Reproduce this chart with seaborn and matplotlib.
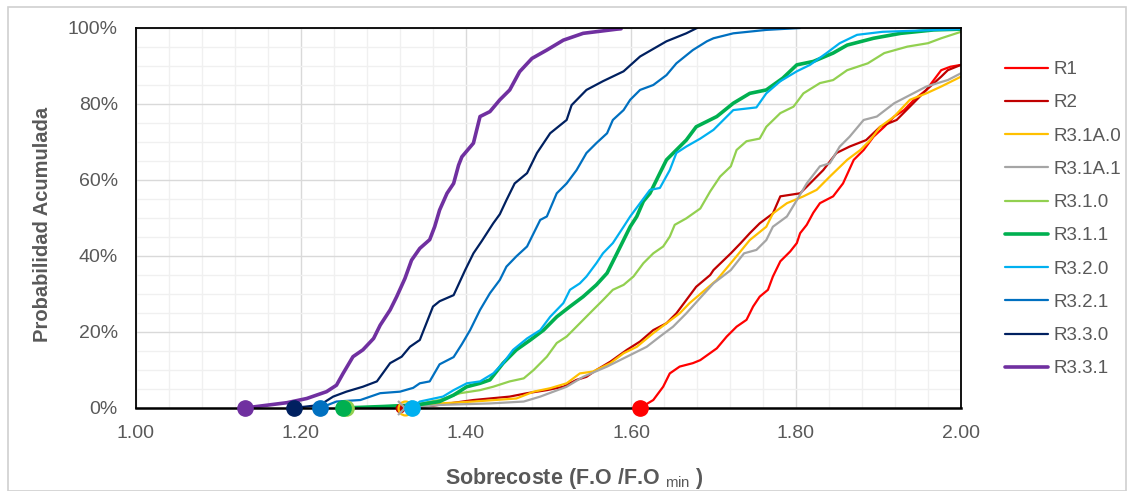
import matplotlib
matplotlib.use("Agg")
import matplotlib.pyplot as plt
import seaborn as sns
import pandas as pd
from matplotlib.ticker import MultipleLocator, FixedLocator
from matplotlib.patches import Rectangle

# ---------------- data ----------------
series_names = ["R1", "R2", "R3.1A.0", "R3.1A.1", "R3.1.0", "R3.1.1",
                "R3.2.0", "R3.2.1", "R3.3.0", "R3.3.1"]

r1_x = [1.611, 1.627, 1.639, 1.647, 1.659, 1.675, 1.684, 1.704, 1.716, 1.728, 1.740, 1.748, 1.756, 1.766,
        1.772, 1.781, 1.793, 1.801, 1.805, 1.813, 1.821, 1.829, 1.845, 1.857, 1.870, 1.882, 1.894, 1.907,
        1.919, 1.931, 1.943, 1.958, 1.976, 1.987, 2.000]
r1_p = [0.000, 0.021, 0.056, 0.091, 0.109, 0.118, 0.126, 0.157, 0.188, 0.214, 0.232, 0.267, 0.293, 0.311,
        0.346, 0.386, 0.412, 0.434, 0.460, 0.482, 0.514, 0.539, 0.557, 0.591, 0.653, 0.679, 0.714, 0.740,
        0.767, 0.784, 0.811, 0.837, 0.889, 0.898, 0.903]

r2_x = [1.320, 1.360, 1.409, 1.453, 1.474, 1.498, 1.518, 1.534, 1.546, 1.558, 1.575, 1.595, 1.611, 1.627,
        1.643, 1.655, 1.667, 1.679, 1.696, 1.700, 1.721, 1.733, 1.744, 1.756, 1.772, 1.781, 1.805, 1.817,
        1.833, 1.849, 1.865, 1.885, 1.902, 1.922, 1.938, 1.958, 1.976, 1.984, 2.000]
r2_p = [0.000, 0.006, 0.021, 0.030, 0.039, 0.047, 0.056, 0.074, 0.082, 0.100, 0.122, 0.153, 0.175, 0.205,
        0.223, 0.249, 0.284, 0.319, 0.350, 0.363, 0.407, 0.434, 0.460, 0.486, 0.512, 0.557, 0.565, 0.591,
        0.626, 0.671, 0.688, 0.705, 0.740, 0.758, 0.793, 0.837, 0.872, 0.889, 0.903]

r31a0_x = [1.326, 1.368, 1.409, 1.461, 1.482, 1.502, 1.522, 1.538, 1.554, 1.575, 1.591, 1.607, 1.627, 1.643,
           1.659, 1.671, 1.684, 1.704, 1.724, 1.744, 1.764, 1.772, 1.789, 1.809, 1.825, 1.841, 1.862, 1.878,
           1.890, 1.902, 1.919, 1.938, 1.958, 1.976, 2.000]
r31a0_p = [0.000, 0.012, 0.017, 0.025, 0.043, 0.052, 0.065, 0.091, 0.096, 0.118, 0.144, 0.161, 0.197, 0.223,
           0.249, 0.276, 0.300, 0.337, 0.389, 0.442, 0.477, 0.512, 0.539, 0.557, 0.574, 0.609, 0.653, 0.679,
           0.705, 0.740, 0.767, 0.811, 0.828, 0.846, 0.872]

r31a1_x = [1.326, 1.368, 1.429, 1.470, 1.490, 1.522, 1.542, 1.571, 1.595, 1.619, 1.635, 1.651, 1.667, 1.684,
           1.700, 1.721, 1.737, 1.752, 1.764, 1.772, 1.789, 1.801, 1.813, 1.829, 1.841, 1.853, 1.865, 1.882,
           1.898, 1.919, 1.935, 1.958, 1.984, 2.000]
r31a1_p = [0.000, 0.008, 0.012, 0.017, 0.030, 0.056, 0.082, 0.109, 0.135, 0.161, 0.188, 0.214, 0.249, 0.290,
           0.328, 0.363, 0.407, 0.416, 0.442, 0.477, 0.504, 0.547, 0.591, 0.636, 0.644, 0.688, 0.714, 0.758,
           0.767, 0.802, 0.820, 0.846, 0.863, 0.881]

r310_x = [1.255, 1.300, 1.340, 1.368, 1.393, 1.417, 1.433, 1.453, 1.470, 1.482, 1.498, 1.510, 1.522, 1.538,
          1.554, 1.566, 1.578, 1.591, 1.603, 1.615, 1.627, 1.639, 1.647, 1.653, 1.667, 1.684, 1.696, 1.708,
          1.721, 1.728, 1.740, 1.756, 1.764, 1.781, 1.797, 1.809, 1.829, 1.845, 1.862, 1.887, 1.907, 1.935,
          1.960, 1.976, 2.000]
r310_p = [0.000, 0.004, 0.010, 0.021, 0.039, 0.047, 0.056, 0.070, 0.078, 0.100, 0.135, 0.171, 0.188, 0.223,
          0.258, 0.284, 0.311, 0.324, 0.346, 0.381, 0.407, 0.425, 0.451, 0.482, 0.499, 0.525, 0.570, 0.609,
          0.636, 0.679, 0.702, 0.709, 0.740, 0.776, 0.793, 0.828, 0.855, 0.863, 0.889, 0.907, 0.934, 0.951,
          0.960, 0.973, 0.990]

r311_x = [1.251, 1.300, 1.340, 1.368, 1.385, 1.401, 1.417, 1.429, 1.445, 1.461, 1.478, 1.494, 1.510, 1.526,
          1.542, 1.558, 1.571, 1.583, 1.591, 1.599, 1.607, 1.615, 1.623, 1.635, 1.643, 1.655, 1.667, 1.679,
          1.704, 1.724, 1.744, 1.764, 1.784, 1.801, 1.821, 1.845, 1.862, 1.894, 1.927, 1.967, 2.000]
r311_p = [0.000, 0.004, 0.008, 0.017, 0.034, 0.056, 0.065, 0.074, 0.118, 0.153, 0.179, 0.205, 0.240, 0.267,
          0.293, 0.324, 0.355, 0.407, 0.442, 0.477, 0.504, 0.544, 0.565, 0.618, 0.653, 0.679, 0.705, 0.740,
          0.767, 0.802, 0.828, 0.837, 0.868, 0.903, 0.912, 0.934, 0.955, 0.973, 0.986, 0.995, 0.997]

r320_x = [1.335, 1.344, 1.372, 1.385, 1.401, 1.417, 1.433, 1.445, 1.457, 1.474, 1.490, 1.502, 1.518, 1.526,
          1.538, 1.546, 1.558, 1.566, 1.578, 1.591, 1.599, 1.611, 1.623, 1.635, 1.647, 1.655, 1.667, 1.684,
          1.700, 1.712, 1.724, 1.752, 1.764, 1.781, 1.801, 1.817, 1.837, 1.853, 1.874, 1.905, 1.946, 2.000]
r320_p = [0.000, 0.017, 0.030, 0.047, 0.065, 0.070, 0.091, 0.118, 0.153, 0.183, 0.205, 0.240, 0.276, 0.311,
          0.328, 0.346, 0.381, 0.407, 0.434, 0.477, 0.504, 0.539, 0.574, 0.579, 0.626, 0.671, 0.688, 0.709,
          0.732, 0.758, 0.784, 0.791, 0.828, 0.860, 0.886, 0.903, 0.934, 0.960, 0.982, 0.990, 0.993, 0.997]

r321_x = [1.223, 1.243, 1.272, 1.296, 1.320, 1.336, 1.344, 1.356, 1.368, 1.385, 1.395, 1.405, 1.417, 1.429,
          1.441, 1.449, 1.461, 1.474, 1.482, 1.490, 1.498, 1.510, 1.522, 1.534, 1.546, 1.558, 1.571, 1.578,
          1.591, 1.599, 1.611, 1.627, 1.643, 1.655, 1.675, 1.692, 1.700, 1.724, 1.764, 1.805]
r321_p = [0.000, 0.017, 0.021, 0.039, 0.043, 0.053, 0.065, 0.070, 0.115, 0.134, 0.168, 0.205, 0.258, 0.302,
          0.337, 0.372, 0.399, 0.425, 0.460, 0.495, 0.504, 0.565, 0.591, 0.626, 0.671, 0.697, 0.723, 0.758,
          0.784, 0.811, 0.837, 0.850, 0.876, 0.907, 0.942, 0.965, 0.973, 0.986, 0.995, 1.000]

r330_x = [1.191, 1.223, 1.239, 1.255, 1.275, 1.292, 1.308, 1.322, 1.332, 1.344, 1.352, 1.360, 1.368, 1.385,
          1.399, 1.409, 1.419, 1.433, 1.441, 1.449, 1.459, 1.474, 1.486, 1.502, 1.522, 1.528, 1.546, 1.566,
          1.591, 1.611, 1.643, 1.667, 1.680]
r330_p = [0.000, 0.008, 0.030, 0.043, 0.056, 0.070, 0.118, 0.135, 0.161, 0.179, 0.223, 0.267, 0.281, 0.297,
          0.363, 0.407, 0.439, 0.486, 0.510, 0.547, 0.591, 0.618, 0.671, 0.723, 0.758, 0.797, 0.837, 0.860,
          0.886, 0.925, 0.965, 0.986, 1.000]

r331_x = [1.132, 1.183, 1.207, 1.231, 1.243, 1.251, 1.263, 1.275, 1.288, 1.296, 1.308, 1.316, 1.326, 1.334,
          1.344, 1.356, 1.362, 1.368, 1.377, 1.385, 1.391, 1.395, 1.409, 1.417, 1.429, 1.441, 1.453, 1.465,
          1.480, 1.498, 1.518, 1.542, 1.583, 1.588]
r331_p = [0.000, 0.014, 0.025, 0.043, 0.060, 0.091, 0.135, 0.153, 0.183, 0.218, 0.258, 0.293, 0.341, 0.389,
          0.420, 0.443, 0.477, 0.521, 0.565, 0.591, 0.639, 0.661, 0.697, 0.767, 0.780, 0.811, 0.837, 0.885,
          0.920, 0.942, 0.968, 0.986, 0.997, 0.998]

x_ticks = [1.00, 1.20, 1.40, 1.60, 1.80, 2.00]
x_tick_labels = ["1.00", "1.20", "1.40", "1.60", "1.80", "2.00"]
y_ticks = [0.0, 0.2, 0.4, 0.6, 0.8, 1.0]
y_tick_labels = ["0%", "20%", "40%", "60%", "80%", "100%"]

# ---------------- styles ----------------
colors = {"R1": "#FF0000", "R2": "#C00000", "R3.1A.0": "#FFC000", "R3.1A.1": "#A5A5A5",
          "R3.1.0": "#92D050", "R3.1.1": "#00B050", "R3.2.0": "#00B0F0", "R3.2.1": "#0070C0",
          "R3.3.0": "#002060", "R3.3.1": "#7030A0"}
widths = {"R3.1.1": 2.6, "R3.3.1": 2.6}

xs = [r1_x, r2_x, r31a0_x, r31a1_x, r310_x, r311_x, r320_x, r321_x, r330_x, r331_x]
ps = [r1_p, r2_p, r31a0_p, r31a1_p, r310_p, r311_p, r320_p, r321_p, r330_p, r331_p]
frames = []
for name, x, p in zip(series_names, xs, ps):
    frames.append(pd.DataFrame({"x": x, "p": p, "serie": name, "i": range(len(x))}))
df = pd.concat(frames, ignore_index=True)

sns.set_theme(style="white")
plt.rcParams["font.family"] = ["Liberation Sans", "DejaVu Sans"]
plt.rcParams["mathtext.fontset"] = "custom"
plt.rcParams["mathtext.rm"] = "Liberation Sans"

TXT = "#595959"
fig = plt.figure(figsize=(11.32, 4.91), dpi=100)
fig.patch.set_facecolor("white")
ax = fig.add_axes([136 / 1132, 1 - 408 / 491, 825 / 1132, 380 / 491])

# grid
ax.xaxis.set_minor_locator(MultipleLocator(0.04))
ax.yaxis.set_minor_locator(MultipleLocator(0.05))
ax.grid(which="minor", color="#F0F0F0", linewidth=1.0)
ax.grid(which="major", color="#D9D9D9", linewidth=1.0)
ax.set_axisbelow(True)

for name in series_names:
    sub = df[df["serie"] == name]
    sns.lineplot(data=sub, x="x", y="p", ax=ax, color=colors[name], sort=False, estimator=None,
                 linewidth=widths.get(name, 1.6), label=name)

# start markers (first point of each series)
for name in series_names:
    sub = df[(df["serie"] == name) & (df["i"] == 0)]
    c = colors[name]
    if name == "R3.1A.0":
        ax.plot(sub["x"], sub["p"], "o", ms=10, mfc="none", mec=c, mew=1.6, clip_on=False, zorder=5)
    elif name == "R3.1A.1":
        ax.plot(sub["x"], sub["p"], "x", ms=10, mec=c, mew=1.6, clip_on=False, zorder=5)
    elif name == "R2":
        ax.plot(sub["x"], sub["p"], "o", ms=6, color=c, clip_on=False, zorder=4)
    else:
        ax.plot(sub["x"], sub["p"], "o", ms=11, color=c, clip_on=False, zorder=5)

ax.set_xlim(1.0, 2.0)
ax.set_ylim(0.0, 1.0)
ax.xaxis.set_major_locator(FixedLocator(x_ticks))
ax.set_xticklabels(x_tick_labels)
ax.yaxis.set_major_locator(FixedLocator(y_ticks))
ax.set_yticklabels(y_tick_labels)
ax.tick_params(which="both", length=0)
ax.tick_params(axis="y", pad=13, labelsize=14, labelcolor=TXT)
ax.tick_params(axis="x", pad=12, labelsize=14, labelcolor=TXT)

for s in ax.spines.values():
    s.set_visible(True)
    s.set_color("black")
    s.set_linewidth(1.3)
ax.spines["bottom"].set_linewidth(1.8)

ax.set_xlabel(r"Sobrecoste (F.O /F.O $_{\rm min}$ )", fontsize=15.5, fontweight="bold", color=TXT)
ax.xaxis.set_label_coords(0.531, -0.152)
ax.set_ylabel("Probabilidad Acumulada", fontsize=14.5, fontweight="bold", color=TXT)
ax.yaxis.set_label_coords(-0.102, 0.484)

handles, labels = ax.get_legend_handles_labels()
if ax.legend_:
    ax.legend_.remove()
leg = fig.legend(handles, labels, loc="upper left", bbox_to_anchor=(1005 / 1132, 1 - 61 / 491),
                 frameon=False, fontsize=13.5, handlelength=2.3, handletextpad=0.3,
                 labelspacing=0.86, borderaxespad=0, borderpad=0)
for t in leg.get_texts():
    t.set_color(TXT)

# outer chart-area border
fig.patches.append(Rectangle((8 / 1132, 0.5 / 491), 1118 / 1132, 483.5 / 491, transform=fig.transFigure,
                             fill=False, edgecolor="#D0D0D0", linewidth=1.2))

fig.savefig("out.png", dpi=100)
